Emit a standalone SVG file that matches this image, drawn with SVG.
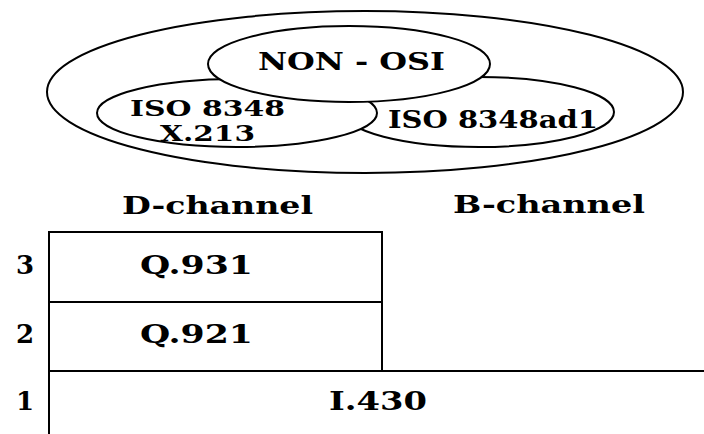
<svg xmlns="http://www.w3.org/2000/svg" width="704" height="434" viewBox="0 0 704 434">
<style>
  .shape { fill: #ffffff; stroke: #000000; stroke-width: 2; }
  .line { fill: none; stroke: #000000; stroke-width: 2; }
  .lbl { font-family: "DejaVu Serif", "Liberation Serif", serif; font-weight: bold; font-size: 24px; fill: #000000; }
  .big { font-size: 26px; }
  .sm { font-size: 22px; }
</style>
<rect x="0" y="0" width="704" height="434" fill="#ffffff"/>

<g id="outer-set">
  <ellipse class="shape" cx="365" cy="92" rx="318" ry="81"/>
</g>
<g id="iso8348ad1">
  <ellipse class="shape" cx="479" cy="112" rx="135" ry="35"/>
</g>
<g id="iso8348-x213">
  <ellipse class="shape" cx="237" cy="113" rx="140" ry="34"/>
</g>
<g id="non-osi">
  <ellipse class="shape" cx="349" cy="64" rx="141" ry="38"/>
  <text class="lbl" x="258" y="70" textLength="187" lengthAdjust="spacingAndGlyphs">NON - OSI</text>
</g>
<g id="iso8348-x213-label">
  <text class="lbl sm" x="130" y="116" textLength="155" lengthAdjust="spacingAndGlyphs">ISO 8348</text>
  <text class="lbl sm" x="160" y="141" textLength="95" lengthAdjust="spacingAndGlyphs">X.213</text>
</g>
<g id="iso8348ad1-label">
  <text class="lbl" x="388" y="128" textLength="210" lengthAdjust="spacingAndGlyphs">ISO 8348ad1</text>
</g>

<g id="header-d">
  <text class="lbl" x="122" y="214" textLength="191" lengthAdjust="spacingAndGlyphs">D-channel</text>
</g>
<g id="header-b">
  <text class="lbl" x="453" y="213" textLength="192" lengthAdjust="spacingAndGlyphs">B-channel</text>
</g>

<g id="layer3">
  <rect class="line" x="49" y="232" width="333" height="70"/>
  <text class="lbl big" x="140" y="274" textLength="113" lengthAdjust="spacingAndGlyphs">Q.931</text>
  <text class="lbl big" x="25" y="274" text-anchor="middle">3</text>
</g>
<g id="layer2">
  <rect class="line" x="49" y="302" width="333" height="69"/>
  <text class="lbl big" x="140" y="343" textLength="113" lengthAdjust="spacingAndGlyphs">Q.921</text>
  <text class="lbl big" x="25" y="343" text-anchor="middle">2</text>
</g>
<g id="layer1">
  <path class="line" d="M49 434 V371 H704"/>
  <text class="lbl big" x="329" y="410" textLength="98" lengthAdjust="spacingAndGlyphs">I.430</text>
  <text class="lbl big" x="25" y="410" text-anchor="middle">1</text>
</g>

<g id="connectors"></g>
</svg>
